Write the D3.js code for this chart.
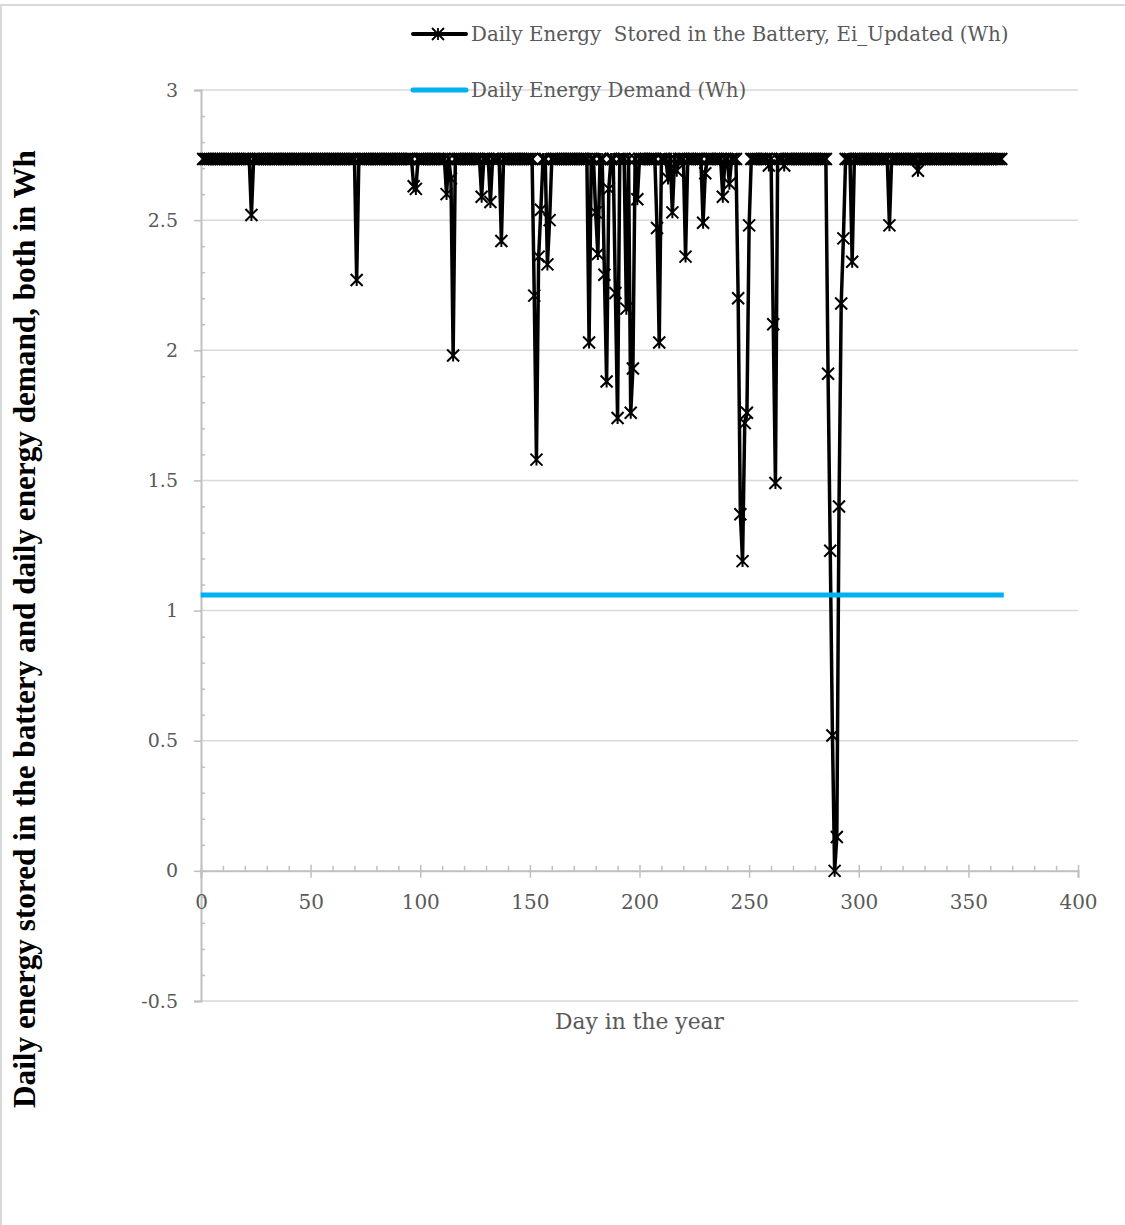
<!DOCTYPE html>
<html><head><meta charset="utf-8">
<script src="https://cdn.jsdelivr.net/npm/d3@7"></script>
<style>body{margin:0;background:#fff} svg{display:block}</style>
</head><body>
<svg id="chart" width="1125" height="1225"></svg>
<script>
// ---- data ----
const firstDay = 1;
const storedWh = [
2.735,2.735,2.735,2.735,2.735,2.735,2.735,2.735,2.735,2.735,
2.735,2.735,2.735,2.735,2.735,2.735,2.735,2.735,2.735,2.735,
2.735,2.735,2.52,2.735,2.735,2.735,2.735,2.735,2.735,2.735,
2.735,2.735,2.735,2.735,2.735,2.735,2.735,2.735,2.735,2.735,
2.735,2.735,2.735,2.735,2.735,2.735,2.735,2.735,2.735,2.735,
2.735,2.735,2.735,2.735,2.735,2.735,2.735,2.735,2.735,2.735,
2.735,2.735,2.735,2.735,2.735,2.735,2.735,2.735,2.735,2.735,
2.27,2.735,2.735,2.735,2.735,2.735,2.735,2.735,2.735,2.735,
2.735,2.735,2.735,2.735,2.735,2.735,2.735,2.735,2.735,2.735,
2.735,2.735,2.735,2.735,2.735,2.735,2.63,2.62,2.735,2.735,
2.735,2.735,2.735,2.735,2.735,2.735,2.735,2.735,2.735,2.735,
2.735,2.60,2.735,2.66,1.98,2.735,2.735,2.735,2.735,2.735,
2.735,2.735,2.735,2.735,2.735,2.735,2.735,2.59,2.735,2.735,
2.735,2.57,2.735,2.735,2.735,2.735,2.42,2.735,2.735,2.735,
2.735,2.735,2.735,2.735,2.735,2.735,2.735,2.735,2.735,2.735,
2.735,2.21,1.58,2.36,2.54,2.735,2.735,2.33,2.50,2.735,
2.735,2.735,2.735,2.735,2.735,2.735,2.735,2.735,2.735,2.735,
2.735,2.735,2.735,2.735,2.735,2.735,2.03,2.735,2.735,2.53,
2.37,2.735,2.735,2.29,1.88,2.62,2.735,2.735,2.22,1.74,
2.735,2.735,2.735,2.16,2.735,1.76,1.93,2.735,2.58,2.735,
2.735,2.735,2.735,2.735,2.735,2.735,2.735,2.47,2.03,2.735,
2.735,2.735,2.66,2.735,2.53,2.735,2.69,2.735,2.735,2.735,
2.36,2.735,2.735,2.735,2.735,2.735,2.735,2.735,2.49,2.68,
2.735,2.735,2.735,2.735,2.735,2.735,2.735,2.59,2.735,2.735,
2.64,2.735,2.735,2.735,2.20,1.37,1.19,1.72,1.76,2.48,
2.735,2.735,2.735,2.735,2.735,2.735,2.735,2.735,2.71,2.735,
2.10,1.49,2.735,2.735,2.735,2.71,2.735,2.735,2.735,2.735,
2.735,2.735,2.735,2.735,2.735,2.735,2.735,2.735,2.735,2.735,
2.735,2.735,2.735,2.735,2.735,1.91,1.23,0.52,0.00,0.13,
1.40,2.18,2.43,2.735,2.735,2.735,2.34,2.735,2.735,2.735,
2.735,2.735,2.735,2.735,2.735,2.735,2.735,2.735,2.735,2.735,
2.735,2.735,2.735,2.48,2.735,2.735,2.735,2.735,2.735,2.735,
2.735,2.735,2.735,2.735,2.735,2.735,2.69,2.735,2.735,2.735,
2.735,2.735,2.735,2.735,2.735,2.735,2.735,2.735,2.735,2.735,
2.735,2.735,2.735,2.735,2.735,2.735,2.735,2.735,2.735,2.735,
2.735,2.735,2.735,2.735,2.735,2.735,2.735,2.735,2.735,2.735,
2.735,2.735,2.735,2.735,2.735
];
const demandDays = [1, 365];
const demandWh = [1.06, 1.06];
const xTicks = [0, 50, 100, 150, 200, 250, 300, 350, 400];
const yTicks = [-0.5, 0, 0.5, 1, 1.5, 2, 2.5, 3];
const yTickLabels = ["-0.5", "0", "0.5", "1", "1.5", "2", "2.5", "3"];
const seriesNames = ["Daily Energy  Stored in the Battery, Ei_Updated (Wh)", "Daily Energy Demand (Wh)"];
const xTitle = "Day in the year";
const yTitle = "Daily energy stored in the battery and daily energy demand, both in Wh";

// ---- drawing ----
const svg = d3.select("#chart");
const x = d3.scaleLinear().domain([0, 400]).range([201, 1078]);
const y = d3.scaleLinear().domain([-0.5, 3]).range([1001, 90]);
const GRID = "#d9d9d9", AXIS = "#bfbfbf", TXT = "#595959";
const SERIF = "'DejaVu Serif', serif";

// chart frame
svg.append("rect").attr("x", 1).attr("y", 5).attr("width", 1140).attr("height", 1230)
  .attr("fill", "none").attr("stroke", GRID).attr("stroke-width", 2);

// gridlines
svg.append("g").selectAll("line").data(yTicks.filter(v => v !== 0)).join("line")
  .attr("x1", x(0)).attr("x2", x(400)).attr("y1", d => y(d)).attr("y2", d => y(d))
  .attr("stroke", GRID).attr("stroke-width", 1.5);

// y minor ticks
const yMinor = d3.range(-5, 31).map(i => i / 10).filter(v => Math.abs(v * 2 - Math.round(v * 2)) > 1e-6);
const gyMinor = svg.append("g").attr("transform", `translate(${x(0)},0)`)
  .call(d3.axisRight(y).tickValues(yMinor).tickSize(4).tickFormat(""));
gyMinor.select(".domain").remove();
gyMinor.selectAll("line").attr("stroke", AXIS).attr("stroke-width", 1.5);

// y axis
const gy = svg.append("g").attr("transform", `translate(${x(0)},0)`)
  .call(d3.axisLeft(y).tickValues(yTicks).tickSize(7).tickPadding(16)
    .tickFormat((d, i) => yTickLabels[i]));
gy.select(".domain").attr("stroke", AXIS).attr("stroke-width", 2);
gy.selectAll("line").attr("stroke", AXIS).attr("stroke-width", 1.5);
gy.selectAll("text").attr("fill", TXT).style("font-family", SERIF).style("font-size", "19px");

// x minor ticks
const xMinor = d3.range(0, 401, 10).filter(v => v % 50 !== 0);
const gxMinor = svg.append("g").attr("transform", `translate(0,${y(0)})`)
  .call(d3.axisTop(x).tickValues(xMinor).tickSize(5).tickFormat(""));
gxMinor.select(".domain").remove();
gxMinor.selectAll("line").attr("stroke", AXIS).attr("stroke-width", 1.5);

// x axis
const gx = svg.append("g").attr("transform", `translate(0,${y(0)})`)
  .call(d3.axisBottom(x).tickValues(xTicks).tickSize(7).tickPadding(17));
gx.select(".domain").attr("stroke", AXIS).attr("stroke-width", 2);
gx.selectAll(".tick line").attr("y1", -6).attr("stroke", AXIS).attr("stroke-width", 1.5);
gx.selectAll("text").attr("fill", TXT).style("font-family", SERIF).style("font-size", "20px");

// stored series
const stored = storedWh.map((v, i) => ({ day: firstDay + i, v }));
const line = d3.line().x(d => x(d.day)).y(d => y(d.v));
svg.append("path").datum(stored).attr("d", line)
  .attr("fill", "none").attr("stroke", "#000").attr("stroke-width", 3.5)
  .attr("stroke-linejoin", "round");
const starPath = "M-6,-6L6,6M-6,6L6,-6M0,-6L0,6";
svg.append("g").selectAll("path").data(stored).join("path")
  .attr("transform", d => `translate(${x(d.day)},${y(d.v)})`)
  .attr("d", starPath).attr("fill", "none").attr("stroke", "#000").attr("stroke-width", 2);

// demand series
const demand = demandDays.map((d, i) => ({ day: d, v: demandWh[i] }));
svg.append("path").datum(demand).attr("d", line)
  .attr("fill", "none").attr("stroke", "#00b0f0").attr("stroke-width", 5)
  .attr("stroke-linecap", "square");

// legend
const lg = svg.append("g");
lg.append("line").attr("x1", 413).attr("x2", 466).attr("y1", 34).attr("y2", 34)
  .attr("stroke", "#000").attr("stroke-width", 4).attr("stroke-linecap", "round");
lg.append("path").attr("transform", "translate(438,34)").attr("d", starPath)
  .attr("fill", "none").attr("stroke", "#000").attr("stroke-width", 1.8);
lg.append("line").attr("x1", 413).attr("x2", 466).attr("y1", 90).attr("y2", 90)
  .attr("stroke", "#00b0f0").attr("stroke-width", 5).attr("stroke-linecap", "round");

function fitFont(sel, target) {
  const w = sel.node().getComputedTextLength();
  const fs = parseFloat(sel.style("font-size"));
  sel.style("font-size", (fs * target / w) + "px");
  return fs * target / w;
}
const l1 = lg.append("text").attr("x", 471).attr("y", 41).text(seriesNames[0])
  .style("white-space", "pre").attr("fill", TXT).style("font-family", SERIF).style("font-size", "20px");
const lfs = fitFont(l1, 538);
lg.append("text").attr("x", 471).attr("y", 97).text(seriesNames[1])
  .attr("fill", TXT).style("font-family", SERIF).style("font-size", lfs + "px");

// axis titles
const xt = svg.append("text").attr("x", (x(0) + x(400)) / 2).attr("y", 1029)
  .attr("text-anchor", "middle").text(xTitle)
  .attr("fill", TXT).style("font-family", SERIF).style("font-size", "20px");
fitFont(xt, 169);

const yt = svg.append("text").attr("transform", "translate(35,629) rotate(-90)")
  .attr("text-anchor", "middle").text(yTitle)
  .attr("fill", "#000").style("font-family", "'Liberation Serif', serif")
  .style("font-weight", "bold").style("font-size", "28px");
fitFont(yt, 958);
</script>
</body></html>
